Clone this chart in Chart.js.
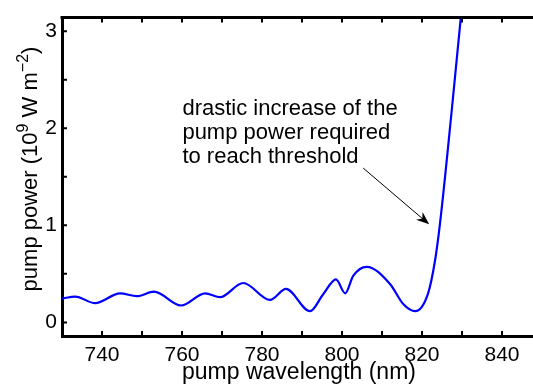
<!DOCTYPE html>
<html>
<head>
<meta charset="utf-8">
<script src="https://cdn.jsdelivr.net/npm/chart.js@4.4.0/dist/chart.umd.min.js"></script>
<style>
html, body { margin: 0; padding: 0; background: #fff; overflow: hidden; }
#wrap { width: 560px; height: 385px; position: relative; }
</style>
</head>
<body>
<div id="wrap"><canvas id="myChart"></canvas></div>
<script>
// values
const wavelength = [730, 733.3, 738.3, 744.5, 748.7, 753.0, 759.8, 765.8, 769.5, 775.3, 782.0, 786.0,
    792.0, 795.3, 798.5, 800.8, 802.8, 806.2, 812.0, 815.3, 818.3, 821.5, 823.25, 824.5, 827.4, 829.7, 830.6];
const power = [0.245, 0.266, 0.198, 0.300, 0.270, 0.317, 0.174, 0.300, 0.260, 0.406, 0.232, 0.345,
    0.116, 0.29, 0.443, 0.300, 0.48, 0.573, 0.396, 0.19, 0.116, 0.297, 0.635, 1.02, 2.17, 3.14, 3.5];
const xLabels = [740, 760, 780, 800, 820, 840];
const yLabels = [0, 1, 2, 3];
const noteLines = ['drastic increase of the', 'pump power required', 'to reach threshold'];
const noteAt = [760.1, 2.14];
const arrowFrom = [805.3, 1.59];
const arrowTo = [821.8, 1.01];

const family = '"Liberation Sans", Arial, Helvetica, sans-serif';

function yTitle(ctx, x, cy) {
    const parts = [['pump power (10', 0], ['9', 1], [' W m', 0], ['\u22122', 1], [')', 0]];
    const big = '22px ' + family, small = '16px ' + family;
    let total = 0;
    parts.forEach(p => { ctx.font = p[1] ? small : big; total += ctx.measureText(p[0]).width; });
    ctx.save();
    ctx.translate(x, cy);
    ctx.rotate(-Math.PI / 2);
    ctx.fillStyle = '#000';
    ctx.textBaseline = 'alphabetic';
    let pos = -total / 2;
    parts.forEach(p => {
        ctx.font = p[1] ? small : big;
        ctx.fillText(p[0], pos, p[1] ? -9 : 0);
        pos += ctx.measureText(p[0]).width;
    });
    ctx.restore();
}

const frame = {
    id: 'frame',
    afterDraw(chart) {
        const {ctx, chartArea: a, scales: {x, y}} = chart;
        ctx.save();
        ctx.strokeStyle = '#000';
        ctx.lineWidth = 3;
        ctx.beginPath();
        ctx.moveTo(a.left - 1.5, a.top);
        ctx.lineTo(a.right, a.top);
        ctx.stroke();

        // inward ticks, MATLAB style
        ctx.lineWidth = 2;
        ctx.beginPath();
        x.ticks.forEach(t => {
            const px = x.getPixelForValue(t.value);
            ctx.moveTo(px, a.bottom);
            ctx.lineTo(px, a.bottom - 5);
            ctx.moveTo(px, a.top);
            ctx.lineTo(px, a.top + 5);
        });
        y.ticks.forEach(t => {
            const py = y.getPixelForValue(t.value);
            ctx.moveTo(a.left, py);
            ctx.lineTo(a.left + 5, py);
        });
        ctx.stroke();

        // annotation
        ctx.fillStyle = '#000';
        ctx.font = '22px ' + family;
        ctx.textBaseline = 'alphabetic';
        const tx = x.getPixelForValue(noteAt[0]);
        const ty = y.getPixelForValue(noteAt[1]);
        noteLines.forEach((l, i) => ctx.fillText(l, tx, ty + i * 24));

        const x0 = x.getPixelForValue(arrowFrom[0]), y0 = y.getPixelForValue(arrowFrom[1]);
        const x1 = x.getPixelForValue(arrowTo[0]), y1 = y.getPixelForValue(arrowTo[1]);
        const ang = Math.atan2(y1 - y0, x1 - x0);
        ctx.lineWidth = 1;
        ctx.beginPath();
        ctx.moveTo(x0, y0);
        ctx.lineTo(x1 - 6 * Math.cos(ang), y1 - 6 * Math.sin(ang));
        ctx.stroke();
        ctx.save();
        ctx.translate(x1, y1);
        ctx.rotate(ang);
        ctx.beginPath();
        ctx.moveTo(0, 0);
        ctx.lineTo(-13, -5);
        ctx.lineTo(-9, 0);
        ctx.lineTo(-13, 5);
        ctx.closePath();
        ctx.fill();
        ctx.restore();

        yTitle(ctx, 37, 169);

        ctx.font = '23px ' + family;
        ctx.textAlign = 'center';
        ctx.fillText('pump wavelength (nm)', (a.left + a.right) / 2 - 3, 379);
        ctx.restore();
    }
};

const points = wavelength.map((w, i) => ({x: w, y: power[i]}));

const myChart = new Chart(document.getElementById('myChart').getContext('2d'), {
    type: 'line',
    data: {
        datasets: [{
            data: points,
            borderColor: '#0000ff',
            borderWidth: 2.2,
            pointRadius: 0,
            fill: false,
            cubicInterpolationMode: 'monotone'
        }]
    },
    options: {
        responsive: true,
        maintainAspectRatio: false,
        animation: false,
        events: [],
        layout: {padding: {top: 15, right: 18, left: 0, bottom: 0}},
        plugins: {legend: {display: false}, tooltip: {enabled: false}},
        scales: {
            x: {
                type: 'linear', min: 730, max: 850,
                grid: {display: false, drawTicks: false},
                border: {display: true, color: '#000', width: 3},
                ticks: {
                    stepSize: 10, includeBounds: false, autoSkip: false, maxRotation: 0,
                    padding: 7, color: '#000', font: {family: family, size: 21},
                    callback: v => xLabels.includes(v) ? String(v) : ''
                },
                afterFit: s => { s.height = 49; }
            },
            y: {
                type: 'linear', min: -0.14, max: 3.14,
                grid: {display: false, drawTicks: false},
                border: {display: true, color: '#000', width: 3},
                ticks: {
                    stepSize: 0.5, includeBounds: false, padding: 5,
                    color: '#000', font: {family: family, size: 21},
                    callback: v => yLabels.includes(v) ? String(v) : ''
                },
                afterFit: s => { s.width = 62; }
            }
        }
    },
    plugins: [frame]
});
</script>
</body>
</html>
